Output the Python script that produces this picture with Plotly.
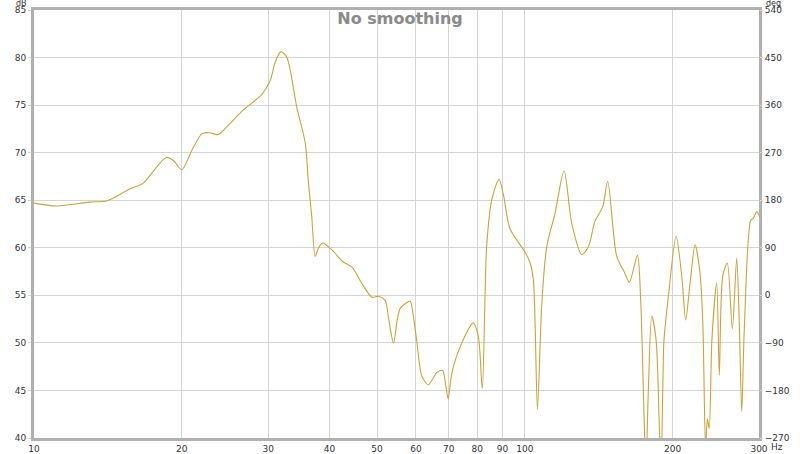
import plotly.graph_objects as go

freq_hz = [10.0, 11.1, 13.0, 14.1, 15.7, 16.7, 17.6, 18.6, 19.3, 20.0, 21.0, 22.0, 22.8, 23.7,
           25.0, 26.7, 29.1, 30.3, 31.0, 31.8, 32.7, 34.3, 35.7, 36.2, 36.8, 37.4, 38.0, 38.75,
           40.4, 42.7, 44.4, 46.5, 48.8, 50.3, 51.9, 52.8, 54.0, 55.0, 55.7, 57.3, 58.4, 59.2,
           60.2, 61.7, 63.6, 66.2, 68.0, 69.0, 69.8, 70.6, 71.5, 74.4, 78.5, 80.4, 81.9, 83.6,
           85.6, 88.6, 90.5, 93.3, 100.5, 102.5, 104.1, 106.1, 108.2, 110.8, 115.2, 120.2,
           124.6, 130.6, 134.7, 139.0, 144.1, 147.5, 153.9, 159.3, 163.3, 169.6, 172.2, 175.0,
           176.5, 178.5, 181.4, 185.1, 188.0, 189.5, 191.0, 192.1, 196.1, 203.3, 208.8, 212.7,
           217.1, 222.3, 227.5, 230.5, 233.5, 235.5, 237.5, 240.5, 246.0, 249.0, 253.0, 258.5,
           264.7, 270.2, 273.5, 276.6, 280.0, 288.6, 292.0, 296.9, 300.0]
spl_db = [64.7, 64.4, 64.8, 64.95, 66.2, 66.8, 68.2, 69.5, 69.1, 68.2, 70.3, 72.0, 72.1, 71.9,
          73.0, 74.5, 76.1, 77.6, 79.5, 80.6, 80.1, 74.8, 71.0, 67.1, 63.3, 59.1, 60.0, 60.5,
          59.8, 58.5, 58.0, 56.3, 54.8, 54.9, 54.5, 52.5, 50.0, 52.5, 53.6, 54.2, 54.4, 53.0,
          50.3, 46.5, 45.6, 46.9, 47.1, 45.5, 44.1, 46.0, 47.5, 50.0, 52.1, 50.7, 45.2, 60.1,
          65.0, 67.2, 65.5, 62.0, 59.4, 58.4, 56.6, 43.0, 53.8, 60.1, 63.6, 68.1,
          62.6, 59.3, 60.1, 62.8, 64.3, 67.0, 59.1, 57.5, 56.4, 59.2, 54.5, 42.0,
          37.0, 45.0, 52.8, 50.3, 41.0, 37.0, 45.0, 50.3, 54.9, 61.2, 57.0, 52.4,
          56.3, 60.3, 57.3, 52.0, 39.0, 42.0, 41.0, 50.3, 56.3, 46.6, 57.0, 58.4,
          51.5, 58.9, 52.0, 42.8, 51.4, 62.9, 63.1, 63.8, 63.4]

x_tick_vals = [10, 20, 30, 40, 50, 60, 70, 80, 90, 100, 200, 300]
x_tick_text = ["10", "20", "30", "40", "50", "60", "70", "80", "90", "100", "200", "300"]
db_ticks = [40, 45, 50, 55, 60, 65, 70, 75, 80, 85]
deg_ticks = [-270, -180, -90, 0, 90, 180, 270, 360, 450, 540]

tick_font = dict(family="DejaVu Sans", size=9, color="#333333")
unit_font = dict(family="DejaVu Sans", size=8, color="#333333")
frame = "#b0b0b0"
grid = "#d4d4d4"

fig = go.Figure()
fig.add_trace(go.Scatter(x=freq_hz, y=spl_db, mode="lines",
                         line=dict(color="#c9a438", width=1.1, shape="spline", smoothing=0.8),
                         hoverinfo="skip", showlegend=False))
fig.add_trace(go.Scatter(x=[10, 300], y=[None, None], yaxis="y2", mode="lines",
                         hoverinfo="skip", showlegend=False))

fig.update_layout(
    width=800, height=454,
    margin=dict(l=34, r=41, t=10, b=16, autoexpand=False),
    paper_bgcolor="white", plot_bgcolor="white",
    title=dict(text="<b>No smoothing</b>", x=0.5, xanchor="center", y=1 - 18 / 454,
               yanchor="middle", font=dict(family="DejaVu Sans", size=16, color="#8a8a8a")),
    xaxis=dict(type="log", range=[1, 2.4771], tickvals=x_tick_vals, ticktext=x_tick_text,
               tickfont=tick_font, showgrid=True, gridcolor=grid, gridwidth=1,
               showline=True, linecolor=frame, linewidth=3, mirror=True,
               ticks="", zeroline=False, automargin=False),
    yaxis=dict(range=[40, 85], tickvals=db_ticks, tickfont=tick_font, showgrid=True,
               gridcolor=grid, gridwidth=1, showline=True, linecolor=frame, linewidth=3,
               mirror=True, ticks="outside", ticklen=3, tickcolor=grid, zeroline=False,
               automargin=False),
    yaxis2=dict(range=[-270, 540], tickvals=deg_ticks, tickfont=tick_font, overlaying="y",
                side="right", showgrid=False, zeroline=False, ticks="outside", ticklen=3,
                tickcolor=grid, automargin=False),
    annotations=[
        dict(text="dB", x=0, y=1, xref="paper", yref="paper", xanchor="right",
             yanchor="middle", xshift=-5, yshift=6.5, showarrow=False, font=unit_font),
        dict(text="deg", x=1, y=1, xref="paper", yref="paper", xanchor="left",
             yanchor="middle", xshift=5, yshift=6.5, showarrow=False, font=unit_font),
        dict(text="Hz", x=1, y=0, xref="paper", yref="paper", xanchor="left",
             yanchor="top", xshift=10, yshift=-2, showarrow=False, font=tick_font),
    ],
)

fig.write_html("out.html", config={"displayModeBar": False},
               post_script="document.body.style.margin='0px';document.body.style.overflow='hidden';")
